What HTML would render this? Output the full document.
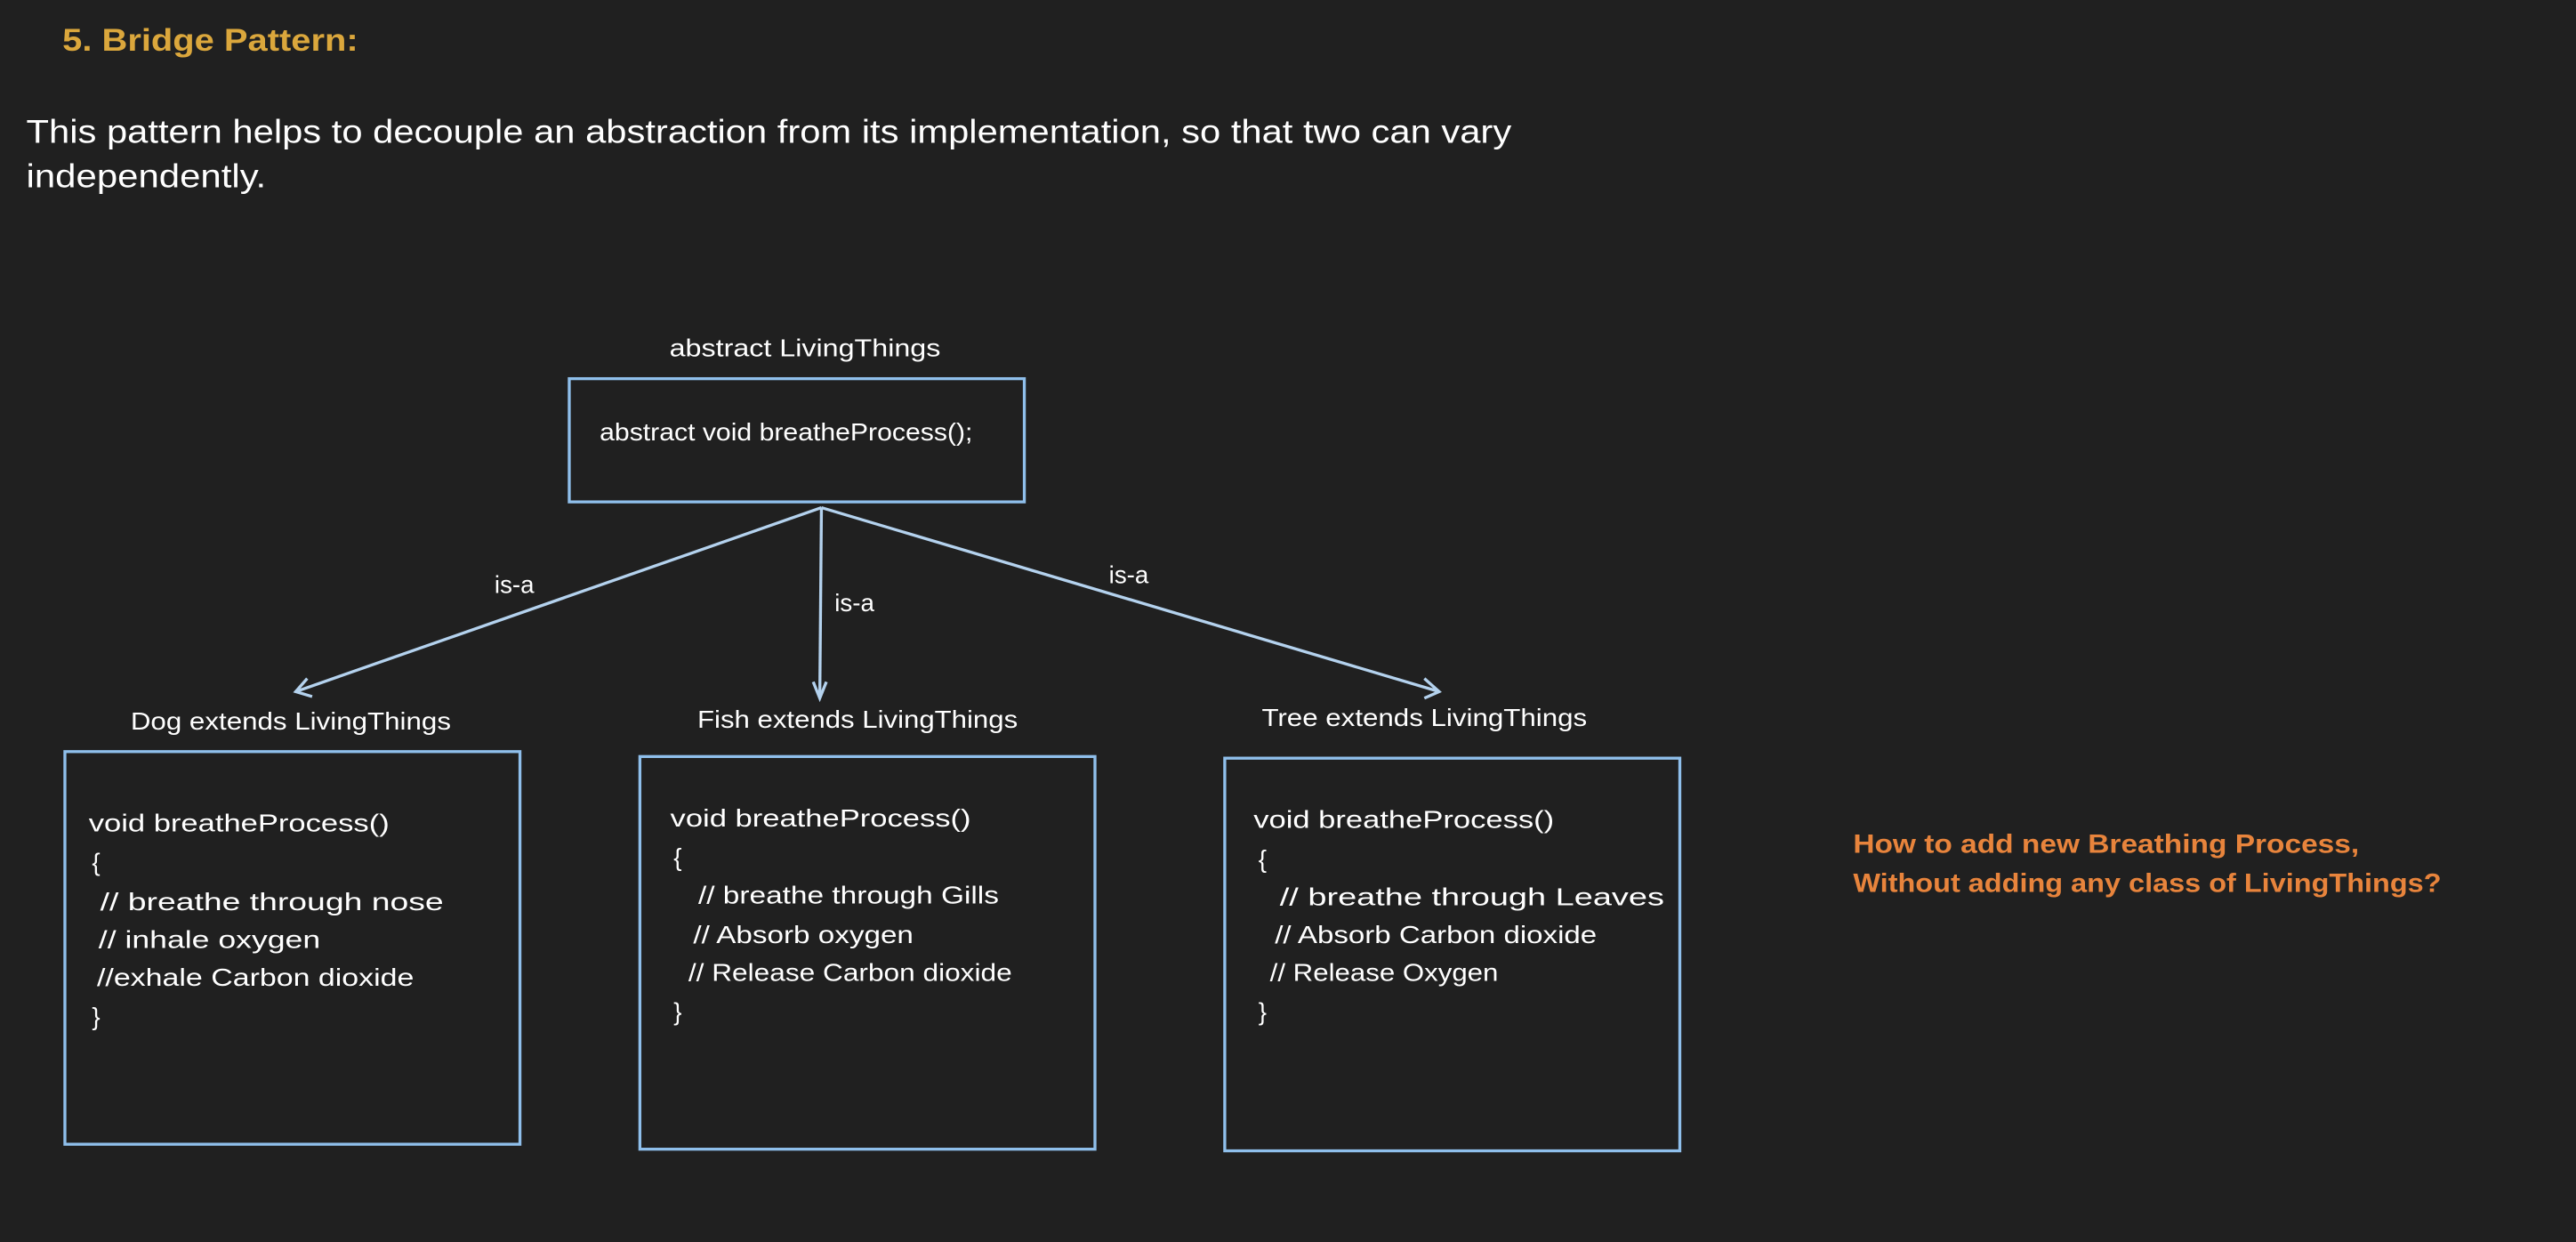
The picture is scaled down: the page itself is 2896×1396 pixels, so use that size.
<!DOCTYPE html>
<html><head><meta charset="utf-8"><style>
html,body{margin:0;padding:0;background:#202020;}
svg{display:block;}
text{font-family:"Liberation Sans",sans-serif;fill:#ffffff;}
</style></head><body>
<svg width="2896" height="1396" viewBox="0 0 1568 756" preserveAspectRatio="none" xmlns="http://www.w3.org/2000/svg">
<rect width="1568" height="756" fill="#202020"/>
<text x="38" y="31" font-size="19" font-weight="bold" style="fill:#dba73c" textLength="180" lengthAdjust="spacingAndGlyphs">5.  Bridge Pattern:</text>
<text x="16" y="87" font-size="20" textLength="904" lengthAdjust="spacingAndGlyphs">This pattern helps to decouple an abstraction from its implementation, so that two can vary</text>
<text x="16" y="114" font-size="20" textLength="146" lengthAdjust="spacingAndGlyphs">independently.</text>

<text x="490" y="217" font-size="15" text-anchor="middle" textLength="165" lengthAdjust="spacingAndGlyphs">abstract LivingThings</text>
<rect x="346.5" y="230.5" width="277" height="75" fill="none" stroke="#8fbfeb" stroke-width="1.8"/>
<text x="365" y="268" font-size="15" textLength="227" lengthAdjust="spacingAndGlyphs">abstract void breatheProcess();</text>

<g stroke="#b4d2ee" stroke-width="1.8" fill="none">
<line x1="500" y1="309" x2="180" y2="421"/>
<polyline points="187,413 180,421 190,424"/>
<line x1="500" y1="309" x2="499" y2="425"/>
<polyline points="495,415 499,425 503,415"/>
<line x1="500" y1="309" x2="876" y2="421"/>
<polyline points="867,413 876,421 867,425"/>
</g>
<text x="301" y="361" font-size="15">is-a</text>
<text x="508" y="372" font-size="15">is-a</text>
<text x="675" y="355" font-size="15">is-a</text>

<text x="177" y="444" font-size="15" text-anchor="middle" textLength="195" lengthAdjust="spacingAndGlyphs">Dog extends LivingThings</text>
<text x="522" y="443" font-size="15" text-anchor="middle" textLength="195" lengthAdjust="spacingAndGlyphs">Fish extends LivingThings</text>
<text x="867" y="442" font-size="15" text-anchor="middle" textLength="198" lengthAdjust="spacingAndGlyphs">Tree extends LivingThings</text>

<g fill="none" stroke="#8fbfeb" stroke-width="1.8">
<rect x="39.5" y="457.5" width="277" height="239"/>
<rect x="389.5" y="460.5" width="277" height="239"/>
<rect x="745.5" y="461.5" width="277" height="239"/>
</g>

<g font-size="15">
<text x="54" y="506" textLength="183" lengthAdjust="spacingAndGlyphs">void breatheProcess()</text>
<text x="56" y="530">{</text>
<text x="61" y="554" textLength="209" lengthAdjust="spacingAndGlyphs">// breathe through nose</text>
<text x="60" y="577" textLength="135" lengthAdjust="spacingAndGlyphs">// inhale oxygen</text>
<text x="59" y="600" textLength="193" lengthAdjust="spacingAndGlyphs">//exhale Carbon dioxide</text>
<text x="56" y="624">}</text>

<text x="408" y="503" textLength="183" lengthAdjust="spacingAndGlyphs">void breatheProcess()</text>
<text x="410" y="527">{</text>
<text x="425" y="550" textLength="183" lengthAdjust="spacingAndGlyphs">// breathe through Gills</text>
<text x="422" y="574" textLength="134" lengthAdjust="spacingAndGlyphs">// Absorb oxygen</text>
<text x="419" y="597" textLength="197" lengthAdjust="spacingAndGlyphs">// Release Carbon dioxide</text>
<text x="410" y="621">}</text>

<text x="763" y="504" textLength="183" lengthAdjust="spacingAndGlyphs">void breatheProcess()</text>
<text x="766" y="528">{</text>
<text x="779" y="551" textLength="234" lengthAdjust="spacingAndGlyphs">// breathe through Leaves</text>
<text x="776" y="574" textLength="196" lengthAdjust="spacingAndGlyphs">// Absorb Carbon dioxide</text>
<text x="773" y="597" textLength="139" lengthAdjust="spacingAndGlyphs">// Release Oxygen</text>
<text x="766" y="621">}</text>
</g>

<text x="1128" y="519" font-size="16" font-weight="bold" style="fill:#e8843c" textLength="308" lengthAdjust="spacingAndGlyphs">How to add new Breathing Process,</text>
<text x="1128" y="543" font-size="16" font-weight="bold" style="fill:#e8843c" textLength="358" lengthAdjust="spacingAndGlyphs">Without adding any class of LivingThings?</text>
</svg>
</body></html>
